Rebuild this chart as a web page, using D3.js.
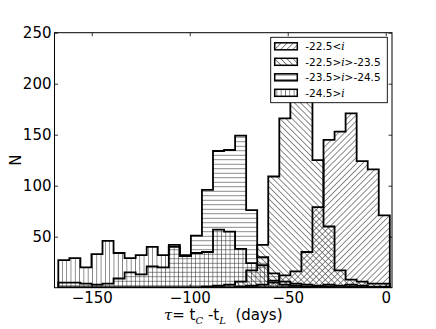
<!DOCTYPE html>
<html>
<head>
<meta charset="utf-8">
<script src="https://cdn.jsdelivr.net/npm/d3@7"></script>
<style>
  body { margin: 0; background: #fff; }
  text { font-family: "DejaVu Sans", sans-serif; fill: #000; }
</style>
</head>
<body>
<svg id="chart" width="436" height="329"></svg>
<script>
// histogram bins (days), 30 bins of equal width
var binStart = -167.06, binWidth = 5.638, nBins = 30;

// counts per bin
var faint = [0,0,0,0,0,0,0,0,0,0,0,0,0,0,0,0,1,2,3,7,12,16,35,79,145,153,171,124,116,71];          // -22.5<i
var mid = [0,0,0,0,0,0,0,0,0,0,0,0,0,1,2,3,6,17,42,109,166,225,195,125,60,17,8,6,4,4];              // -22.5>i>-23.5
var bright = [5,5,4,3,4,9,15,13,21,20,40,31,51,96,134,135,149,76,30,14,6,4,3,2,3,2,3,2,1,1];      // -23.5>i>-24.5
var brightest = [27,29,20,33,46,34,29,32,40,32,42,32,34,35,57,55,38,24,22,5,3,2,1,1,1,0,1,0,0,0]; // -24.5>i

var series = [
  {name: "-22.5<", tail: "", values: faint, hatch: "hNE"},
  {name: "-22.5>", tail: ">-23.5", values: mid, hatch: "hNW"},
  {name: "-23.5>", tail: ">-24.5", values: bright, hatch: "hH"},
  {name: "-24.5>", tail: "", values: brightest, hatch: "hV"}
];

var xTicks = [-150, -100, -50, 0];
var yTicks = [50, 100, 150, 200, 250];

var plot = {left: 54.5, top: 32.7, right: 392, bottom: 287.7};

var svg = d3.select("#chart");

var x = d3.scaleLinear().domain([-169, 3.2]).range([plot.left, plot.right]);
var y = d3.scaleLinear().domain([0, 250]).range([plot.bottom, plot.top]);

// ---- hatch patterns
var defs = svg.append("defs");
function hatch(id, w, h, x1, y1, x2, y2, rot) {
  var p = defs.append("pattern")
      .attr("id", id)
      .attr("patternUnits", "userSpaceOnUse")
      .attr("width", w).attr("height", h);
  if (rot) p.attr("patternTransform", "rotate(" + rot + ")");
  p.append("line")
      .attr("x1", x1).attr("y1", y1).attr("x2", x2).attr("y2", y2)
      .attr("stroke", "#333").attr("stroke-width", 0.6);
}
hatch("hH", 10, 4.5, 0, 2.25, 10, 2.25, 0);
hatch("hV", 4.3, 10, 2.15, 0, 2.15, 10, 0);
hatch("hNE", 4.3, 10, 2.15, 0, 2.15, 10, 45);
hatch("hNW", 4.3, 10, 2.15, 0, 2.15, 10, -45);

defs.append("clipPath").attr("id", "clip")
  .append("rect")
    .attr("x", plot.left).attr("y", plot.top)
    .attr("width", plot.right - plot.left).attr("height", plot.bottom - plot.top);

// ---- step histograms
var edges = d3.range(nBins + 1).map(function(i) { return binStart + i * binWidth; });

function stepPoints(vals) {
  var pts = [[x(edges[0]), y(0)]];
  vals.forEach(function(v, i) {
    pts.push([x(edges[i]), y(v)]);
    pts.push([x(edges[i + 1]), y(v)]);
  });
  pts.push([x(edges[nBins]), y(0)]);
  return pts;
}
var line = d3.line();

var hist = svg.append("g").attr("clip-path", "url(#clip)");
hist.selectAll("path.hist")
  .data(series)
  .enter().append("path")
    .attr("class", "hist")
    .attr("d", function(d) { return line(stepPoints(d.values)) + "Z"; })
    .attr("fill", function(d) { return "url(#" + d.hatch + ")"; })
    .attr("stroke", "none");
hist.selectAll("path.outline")
  .data(series)
  .enter().append("path")
    .attr("class", "outline")
    .attr("d", function(d) { return line(stepPoints(d.values)) + "Z"; })
    .attr("fill", "none")
    .attr("stroke", "#000")
    .attr("stroke-width", 1.8)
    .attr("stroke-linejoin", "miter");

// ---- axes (ticks inward on all sides)
var tickFont = "15px";
var gx = svg.append("g")
    .attr("transform", "translate(0," + plot.bottom + ")")
    .call(d3.axisBottom(x).tickValues(xTicks).tickSizeInner(-3.5).tickSizeOuter(0).tickPadding(5));
var gxTop = svg.append("g")
    .attr("transform", "translate(0," + plot.top + ")")
    .call(d3.axisTop(x).tickValues(xTicks).tickSizeInner(-3.5).tickSizeOuter(0).tickFormat(""));
var gy = svg.append("g")
    .attr("transform", "translate(" + plot.left + ",0)")
    .call(d3.axisLeft(y).tickValues(yTicks).tickSizeInner(-3.5).tickSizeOuter(0).tickPadding(3));
var gyR = svg.append("g")
    .attr("transform", "translate(" + plot.right + ",0)")
    .call(d3.axisRight(y).tickValues(yTicks).tickSizeInner(-3.5).tickSizeOuter(0).tickFormat(""));

[gx, gxTop, gy, gyR].forEach(function(g) {
  g.select(".domain").remove();
  g.selectAll(".tick line").attr("stroke", "#000").attr("stroke-width", 0.8);
  g.selectAll("text")
    .style("font-family", "DejaVu Sans, sans-serif")
    .style("font-size", tickFont)
    .attr("fill", "#000");
});

svg.append("rect")
    .attr("x", plot.left).attr("y", plot.top)
    .attr("width", plot.right - plot.left).attr("height", plot.bottom - plot.top)
    .attr("fill", "none").attr("stroke", "#000").attr("stroke-width", 1);

// ---- axis labels
svg.append("text")
    .attr("transform", "translate(20.5," + (plot.top + plot.bottom) / 2 + ") rotate(-90)")
    .attr("text-anchor", "middle")
    .style("font-size", "15px")
    .text("N");

var xl = svg.append("text")
    .attr("x", (plot.left + plot.right) / 2)
    .attr("y", 320)
    .attr("text-anchor", "middle")
    .style("font-size", "15px")
    .style("white-space", "pre");
xl.append("tspan").style("font-family", "DejaVu Serif, serif").style("font-style", "italic").text("\u03c4");
xl.append("tspan").text("= t");
xl.append("tspan").attr("dy", 4).style("font-family", "DejaVu Serif, serif").style("font-style", "italic").style("font-size", "10px").text("C");
xl.append("tspan").attr("dy", -4).text(" -t");
xl.append("tspan").attr("dy", 4).style("font-family", "DejaVu Serif, serif").style("font-style", "italic").style("font-size", "10px").text("L");
xl.append("tspan").attr("dy", -4).text("  (days)");

// ---- legend
var lg = svg.append("g").attr("transform", "translate(270.7,37.3)");
lg.append("rect")
    .attr("width", 116.6).attr("height", 65.4)
    .attr("fill", "#fff").attr("stroke", "#000").attr("stroke-width", 0.9);

var item = lg.selectAll("g.item")
  .data(series)
  .enter().append("g")
    .attr("class", "item")
    .attr("transform", function(d, i) { return "translate(4," + (9 + i * 15.5) + ")"; });
item.append("rect")
    .attr("x", 0).attr("y", -3.5).attr("width", 22.6).attr("height", 7)
    .attr("fill", function(d) { return "url(#" + d.hatch + ")"; })
    .attr("stroke", "#000").attr("stroke-width", 1.5);
var lt = item.append("text")
    .attr("x", 30.6).attr("y", 3.8)
    .style("font-size", "10.5px");
lt.append("tspan").text(function(d) { return d.name; });
lt.append("tspan").style("font-family", "DejaVu Serif, serif").style("font-style", "italic").text("i");
lt.append("tspan").text(function(d) { return d.tail; });
</script>
</body>
</html>
